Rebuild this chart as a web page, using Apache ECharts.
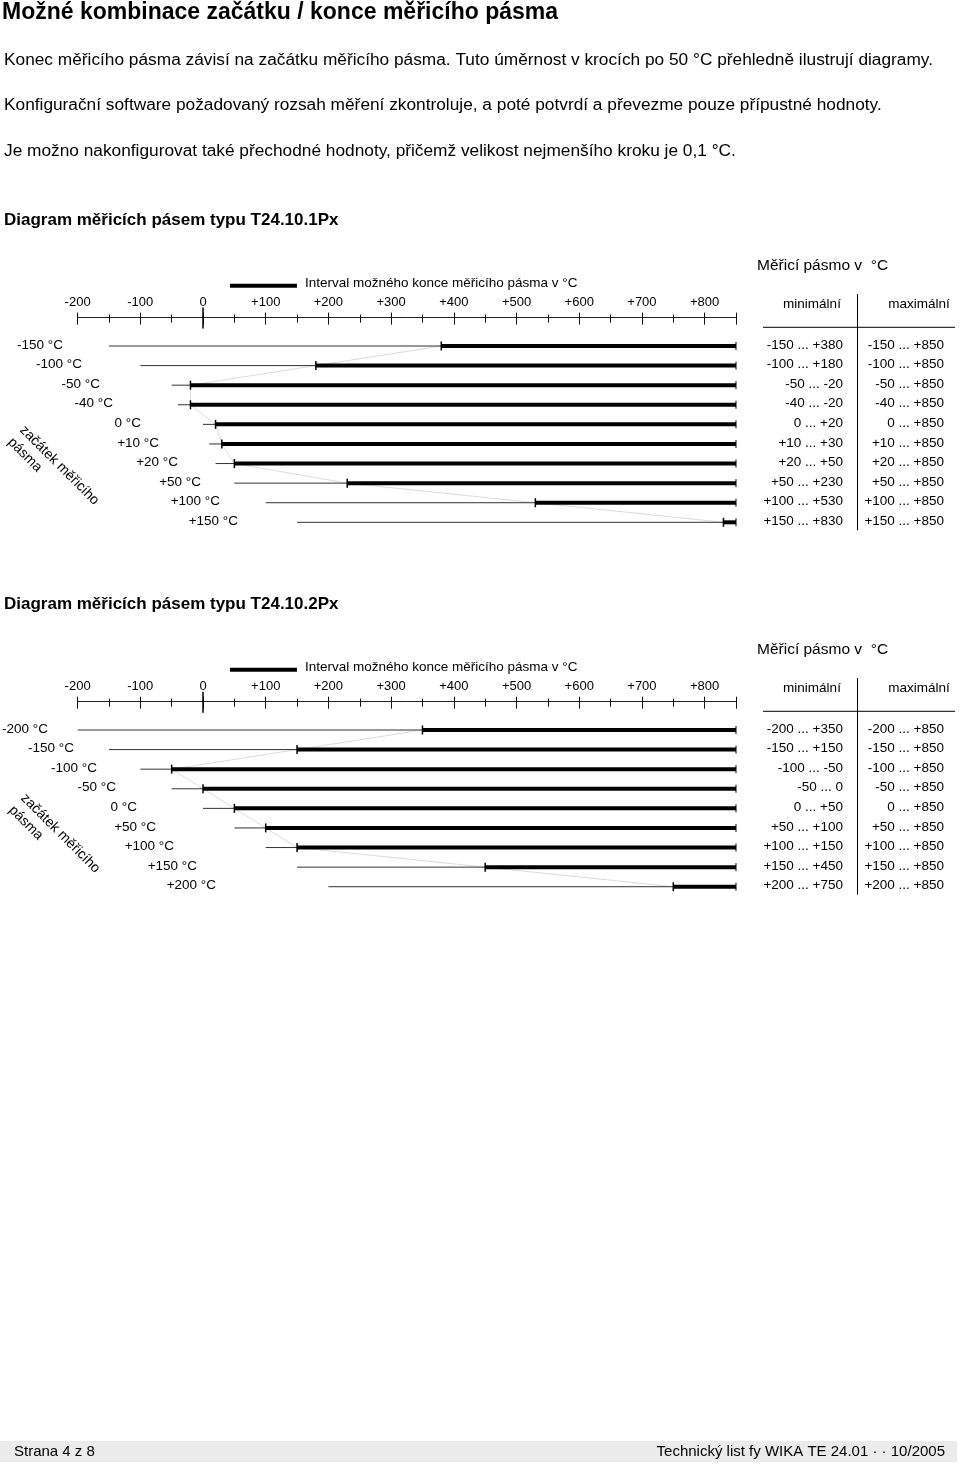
<!DOCTYPE html>
<html>
<head>
<meta charset="utf-8">
<script src="https://cdn.jsdelivr.net/npm/echarts@6/dist/echarts.min.js"></script>
<style>html,body{margin:0;padding:0;background:#fff}#c{width:960px;height:1466px}</style>
</head>
<body>
<div id="c"></div>
<script>
// ---------------- data ----------------
const axisMin = -200, axisMax = 850, majorStep = 100, minorStep = 50;
const rangeEnd = 850;
const starts1 = [-150, -100, -50, -40, 0, 10, 20, 50, 100, 150];
const minEnds1 = [380, 180, -20, -20, 20, 30, 50, 230, 530, 830];
const starts2 = [-200, -150, -100, -50, 0, 50, 100, 150, 200];
const minEnds2 = [350, 150, -50, 0, 50, 100, 150, 450, 750];
const pageTitle = 'Možné kombinace začátku / konce měřicího pásma';
const paragraphs = [
  'Konec měřicího pásma závisí na začátku měřicího pásma. Tuto úměrnost v krocích po 50 °C přehledně ilustrují diagramy.',
  'Konfigurační software požadovaný rozsah měření zkontroluje, a poté potvrdí a převezme pouze přípustné hodnoty.',
  'Je možno nakonfigurovat také přechodné hodnoty, přičemž velikost nejmenšího kroku je 0,1 °C.'
];
const diagramTitles = ['Diagram měřicích pásem typu T24.10.1Px', 'Diagram měřicích pásem typu T24.10.2Px'];
const legendText = 'Interval možného konce měřicího pásma v °C';
const tableTitle = 'Měřicí pásmo v  °C';
const colHeaders = ['minimální', 'maximální'];
const sideLabel = 'začátek měřicího\npásma';
const footerLeft = 'Strana 4 z 8';
const footerRight = 'Technický list fy WIKA TE 24.01 · · 10/2005';

// ---------------- layout ----------------
const FONT = '"Liberation Sans", Arial, Helvetica, sans-serif';
const PLOT_L = 77.6, PLOT_R = 736;
const ROW_H = 19.59;
const layouts = [
  {firstRow: 346, axisY: 317.6, dy: 0, titleY: 220, labelRight: [63, 82, 100, 113, 141, 159, 178, 201, 220, 238], side: [28, 422]},
  {firstRow: 730, axisY: 701.7, dy: 384, titleY: 604, labelRight: [48, 74, 97, 116, 137, 156, 174, 197, 216], side: [29, 790]}
];

function fmt(v) { return v > 0 ? '+' + v : String(v); }
function gText(x, y, text, size, opts) {
  opts = opts || {};
  return {type: 'text', x: x, y: y, silent: true, rotation: opts.rotation || 0,
    style: {text: text, fill: '#000', fontSize: size, fontFamily: opts.family || FONT,
      fontWeight: opts.weight || 'normal', align: opts.align || 'left',
      verticalAlign: opts.valign || 'middle', lineHeight: opts.lineHeight}};
}
function gLine(x1, y1, x2, y2, w, color) {
  return {type: 'line', silent: true, shape: {x1: x1, y1: y1, x2: x2, y2: y2},
    style: {stroke: color || '#000', lineWidth: w}};
}

const grids = [], xAxes = [], yAxes = [], series = [], graphics = [];

graphics.push(gText(2, 13, pageTitle, 23, {weight: 'bold'}));
[60, 105, 151].forEach((y, i) => graphics.push(gText(4, y, paragraphs[i], 17.3)));

[[starts1, minEnds1], [starts2, minEnds2]].forEach(([starts, ends], k) => {
  const L = layouts[k];
  const n = starts.length;
  const top = L.firstRow - ROW_H / 2;
  const dy = L.dy;
  grids.push({left: PLOT_L, width: PLOT_R - PLOT_L, top: top, height: ROW_H * n});
  const off = top - L.axisY;
  const xBase = (interval, inside, len, extra) => Object.assign({
    type: 'value', gridIndex: k, position: 'top', offset: off, min: axisMin, max: axisMax, interval: interval,
    splitLine: {show: false}, axisLine: {show: false}, axisLabel: {show: false},
    axisTick: {show: true, inside: inside, length: len, lineStyle: {color: '#111', width: 1}}
  }, extra || {});
  const xi = xAxes.length;
  xAxes.push(xBase(majorStep, false, 5, {
    axisLine: {show: true, lineStyle: {color: '#222', width: 1}},
    axisLabel: {show: true, margin: 9, color: '#000', fontSize: 13, fontFamily: FONT,
      formatter: v => (v === axisMax ? '' : fmt(v))}
  }));
  xAxes.push(xBase(majorStep, true, 7));
  xAxes.push(xBase(minorStep, false, 3));
  xAxes.push(xBase(minorStep, true, 5));
  yAxes.push({type: 'category', gridIndex: k, inverse: true, show: false,
    data: starts.map(s => fmt(s) + ' °C')});

  // faint connector through the interval starts
  series.push({type: 'line', xAxisIndex: xi, yAxisIndex: k, silent: true, z: 1,
    data: ends.map((e, i) => [e, i]), symbol: 'none',
    lineStyle: {color: '#dcdcdc', width: 1}});

  series.push({type: 'custom', xAxisIndex: xi, yAxisIndex: k, z: 3, clip: false, silent: true,
    data: starts.map((s, i) => [s, ends[i], i]),
    encode: {x: [0, 1], y: 2},
    renderItem: (params, api) => {
      const s = api.value(0), e = api.value(1), i = api.value(2);
      const pS = api.coord([s, i]), pE = api.coord([e, i]), pM = api.coord([rangeEnd, i]);
      const y = pS[1];
      const t = (x, text, align) => ({type: 'text', x: x, y: y - 1,
        style: {text: text, fill: '#000', fontSize: 13.5, fontFamily: FONT, align: align, verticalAlign: 'middle'}});
      return {type: 'group', children: [
        {type: 'line', shape: {x1: pS[0], y1: y, x2: pE[0], y2: y}, style: {stroke: '#333', lineWidth: 1}},
        {type: 'line', shape: {x1: pE[0], y1: y, x2: pM[0], y2: y}, style: {stroke: '#000', lineWidth: 4}},
        {type: 'line', shape: {x1: pE[0], y1: y - 4.5, x2: pE[0], y2: y + 4.5}, style: {stroke: '#000', lineWidth: 1.5}},
        {type: 'line', shape: {x1: pM[0], y1: y - 4, x2: pM[0], y2: y + 4}, style: {stroke: '#000', lineWidth: 1}},
        t(L.labelRight[i], fmt(s) + ' °C', 'right'),
        t(843, fmt(s) + ' ... ' + fmt(e), 'right'),
        t(944, fmt(s) + ' ... ' + fmt(rangeEnd), 'right')
      ]};
    }});

  // long tick at zero
  series.push({type: 'custom', xAxisIndex: xi, yAxisIndex: k, z: 3, clip: false, silent: true,
    data: [[0, 0]], encode: {x: 0, y: 1},
    renderItem: (params, api) => {
      const p = api.coord([api.value(0), 0]);
      return {type: 'line', shape: {x1: p[0], y1: L.axisY - 10, x2: p[0], y2: L.axisY + 11},
        style: {stroke: '#000', lineWidth: 1.5}};
    }});

  // static texts
  const lastRow = L.firstRow + (n - 1) * ROW_H;
  graphics.push(gText(4, L.titleY, diagramTitles[k], 17, {weight: 'bold'}));
  graphics.push(gLine(230, 285.7 + dy, 297, 285.7 + dy, 4));
  graphics.push(gText(305, 283.7 + dy, legendText, 13.5));
  graphics.push(gText(757, 265.5 + dy, tableTitle, 15.5));
  graphics.push(gText(812, 304 + dy, colHeaders[0], 13.5, {align: 'center'}));
  graphics.push(gText(919, 304 + dy, colHeaders[1], 13.5, {align: 'center'}));
  graphics.push(gLine(763, 327.3 + dy, 955, 327.3 + dy, 1));
  graphics.push(gLine(857.5, 294 + dy, 857.5, lastRow + 8, 1));
  graphics.push(gText(L.side[0], L.side[1], sideLabel, 14,
    {rotation: -Math.PI / 4, valign: 'top', lineHeight: 17}));
});

// footer
graphics.push({type: 'rect', silent: true, shape: {x: 0, y: 1441, width: 957, height: 21}, style: {fill: '#ebebeb'}});
graphics.push(gText(14, 1451.5, footerLeft, 15));
graphics.push(gText(945, 1451.5, footerRight, 15, {align: 'right'}));

const chart = echarts.init(document.getElementById('c'), null, {renderer: 'canvas'});
chart.setOption({
  animation: false,
  backgroundColor: '#fff',
  grid: grids,
  xAxis: xAxes,
  yAxis: yAxes,
  series: series,
  graphic: graphics
});
</script>
</body>
</html>
